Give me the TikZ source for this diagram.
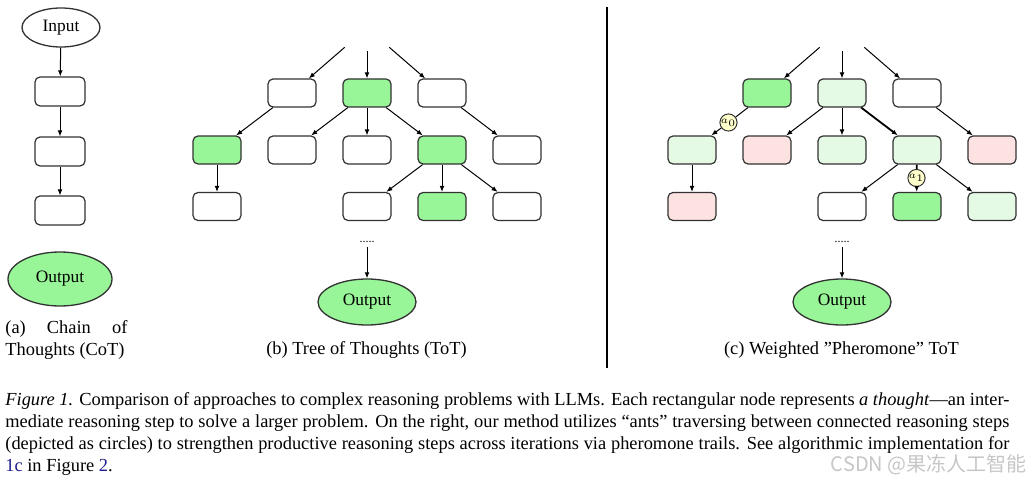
\documentclass[tikz,border=0pt]{standalone}
\usepackage{fontspec}
\setmainfont{Liberation Serif}
\newfontfamily\cjkfont{Noto Sans CJK SC}
\usetikzlibrary{arrows.meta,shapes.geometric}
\definecolor{thgreen}{RGB}{152,245,152}
\definecolor{thlight}{RGB}{228,250,228}
\definecolor{thpink}{RGB}{253,226,226}
\definecolor{antyellow}{RGB}{255,255,204}
\definecolor{edgegray}{RGB}{50,50,50}
\definecolor{linkblue}{RGB}{30,30,140}
\begin{document}
\begin{tikzpicture}[x=0.5pt,y=-0.5pt,
 thought/.style={draw=edgegray, line width=0.6pt, rounded corners=2.5pt, minimum width=24pt, minimum height=14pt, inner sep=0pt, fill=white},
 cotbox/.style={thought, minimum width=25pt, minimum height=14.5pt},
 good/.style={thought, fill=thgreen},
 weak/.style={thought, fill=thlight},
 bad/.style={thought, fill=thpink},
 term/.style={draw=edgegray, line width=0.65pt, ellipse, inner sep=0pt, font=\fontsize{8.7}{10}\selectfont},
 hidden/.style={ellipse, minimum width=39pt, minimum height=23pt, inner sep=0pt},
 link/.style={-{Latex[length=3pt,width=2.4pt]}, line width=0.5pt, black},
 plain/.style={line width=0.5pt, black},
 heavy/.style={link, line width=0.9pt},
 ant/.style={circle, draw=edgegray, fill=antyellow, line width=0.5pt, minimum size=8pt, inner sep=0pt, font=\fontsize{4.2}{5}\selectfont},
 captext/.style={font=\fontsize{9.2}{11}\selectfont, inner sep=0pt},
 dotsnode/.style={font=\fontsize{6}{7}\selectfont, inner sep=0pt, outer sep=2pt}]
\useasboundingbox (0,0) rectangle (1032,481);

% ---------- (a) Chain of Thoughts ----------
\node[term, minimum width=39pt, minimum height=19.5pt] (ain) at (61,27.5) {Input};
\node[cotbox] (a1) at (60,91.5) {};
\node[cotbox] (a2) at (60,151.5) {};
\node[cotbox] (a3) at (60,210.5) {};
\node[term, fill=thgreen, minimum width=52pt, minimum height=27pt] (aout) at (60,279) {Output};
\draw[link] (ain) -- (a1);
\draw[link] (a1) -- (a2);
\draw[link] (a2) -- (a3);
\node[captext, text width=61pt, align=justify, anchor=north west] (capa) at (5,320) {(a) Chain of\linebreak Thoughts (CoT)};

% ---------- (b) Tree of Thoughts ----------
\node[hidden] (broot) at (367,28) {};
\node[thought] (b11) at (292,93) {};
\node[good]    (b12) at (367,93) {};
\node[thought] (b13) at (442,93) {};
\node[good]    (b21) at (217,150) {};
\node[thought] (b22) at (292,150) {};
\node[thought] (b23) at (367,150) {};
\node[good]    (b24) at (442,150) {};
\node[thought] (b25) at (517,150) {};
\node[thought] (b31) at (217,206.5) {};
\node[thought] (b33) at (367,206.5) {};
\node[good]    (b34) at (442,206.5) {};
\node[thought] (b35) at (517,206.5) {};
\draw[link] (broot) -- (b11);
\draw[link] (broot) -- (b12);
\draw[link] (broot) -- (b13);
\draw[link] (b11) -- (b21);
\draw[link] (b12) -- (b22);
\draw[link] (b12) -- (b23);
\draw[link] (b12) -- (b24);
\draw[link] (b13) -- (b25);
\draw[link] (b21) -- (b31);
\draw[link] (b24) -- (b33);
\draw[link] (b24) -- (b34);
\draw[link] (b24) -- (b35);
\node[dotsnode] (bdots) at (367,242) {.....};
\node[term, fill=thgreen, minimum width=49pt, minimum height=23pt] (bout) at (367,302) {Output};
\draw[link] (bdots) -- (bout);
\node[captext] (capb) at (366.5,350) {(b) Tree of Thoughts (ToT)};

% ---------- divider ----------
\draw[line width=1.25pt] (607,7) -- (607,368);

% ---------- (c) Weighted Pheromone ToT ----------
\node[hidden] (croot) at (842,28) {};
\node[good]    (c11) at (767,93) {};
\node[weak]    (c12) at (842,93) {};
\node[thought] (c13) at (917,93) {};
\node[weak]    (c21) at (692,150) {};
\node[bad]     (c22) at (767,150) {};
\node[weak]    (c23) at (842,150) {};
\node[weak]    (c24) at (917,150) {};
\node[bad]     (c25) at (992,150) {};
\node[bad]     (c31) at (692,206.5) {};
\node[thought] (c33) at (842,206.5) {};
\node[good]    (c34) at (917,206.5) {};
\node[weak]    (c35) at (992,206.5) {};
\draw[link] (croot) -- (c11);
\draw[link] (croot) -- (c12);
\draw[link] (croot) -- (c13);
\node[ant] (ant0) at (728.5,122.5) {$a_0$};
\draw[plain] (c11) -- (ant0);
\draw[link] (ant0) -- (c21);
\draw[link] (c12) -- (c22);
\draw[link] (c12) -- (c23);
\draw[heavy] (c12) -- (c24);
\draw[link] (c13) -- (c25);
\draw[link] (c21) -- (c31);
\draw[link] (c24) -- (c33);
\node[ant] (ant1) at (916.5,178) {$a_1$};
\draw[plain, line width=0.9pt] (c24) -- (ant1);
\draw[heavy] (ant1) -- (c34);
\draw[link] (c24) -- (c35);
\node[dotsnode] (cdots) at (842,242) {.....};
\node[term, fill=thgreen, minimum width=49pt, minimum height=23pt] (cout) at (842,302) {Output};
\draw[link] (cdots) -- (cout);
\node[captext] (capc) at (841.5,350) {(c) Weighted ”Pheromone” ToT};

% ---------- caption ----------
\node[captext, text width=502pt, align=justify, anchor=north west] (caption) at (5,392) {\textit{Figure 1.} Comparison of approaches to complex reasoning problems with LLMs. Each rectangular node represents \textit{a thought}—an inter-\linebreak mediate reasoning step to solve a larger problem. On the right, our method utilizes “ants” traversing between connected reasoning steps\linebreak (depicted as circles) to strengthen productive reasoning steps across iterations via pheromone trails. See algorithmic implementation for\linebreak \textcolor{linkblue}{1c} in Figure~\textcolor{linkblue}{2}.};

% ---------- watermark ----------
\node[anchor=east, inner sep=0pt, text=gray!45, font=\fontsize{10}{12}\selectfont\cjkfont] (wm) at (1027,465) {CSDN @果冻人工智能};
\end{tikzpicture}
\end{document}
